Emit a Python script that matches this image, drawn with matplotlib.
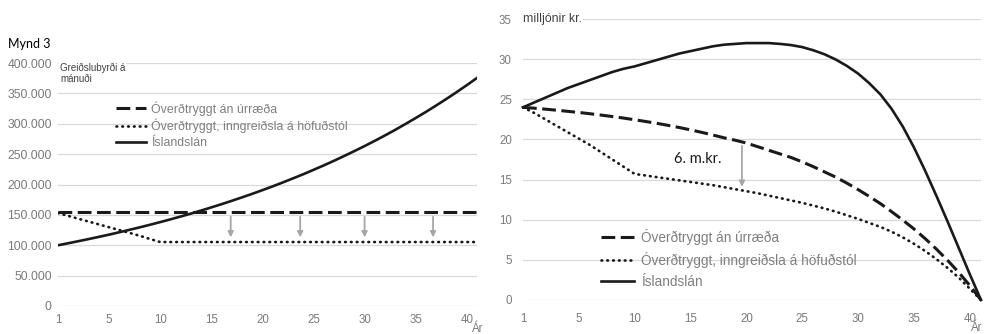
import numpy as np
import matplotlib
matplotlib.use("Agg")
import matplotlib.pyplot as plt

# ár 0..41 á flokkaás; merkingar 1, 5, 10, ... 40
tick_pos = [0, 5, 10, 15, 20, 25, 30, 35, 40]
tick_labels = ["1", "5", "10", "15", "20", "25", "30", "35", "40"]

labels = ["Óverðtryggt án úrræða",
          "Óverðtryggt, inngreiðsla á höfuðstól",
          "Íslandslán"]

# greiðslubyrði á mánuði (kr.)
pay_overdtr = [155000] * 42
pay_inngr = [153000, 148300, 143600, 139000, 134300, 129600, 125000, 120300,
             115600, 110300, 105300] + [105300] * 31
pay_isl = [100000, 103300, 106700, 110200, 113800, 117500, 121400, 125400,
           129500, 133700, 138100, 142600, 147300, 152100, 157100, 162300,
           167600, 173100, 178800, 184600, 190700, 196900, 203400, 210100,
           216900, 224100, 231400, 239000, 246900, 255000, 263300, 271900,
           280800, 290000, 299600, 309400, 319500, 330000, 340800, 352000,
           363500, 375400]

# eftirstöðvar (milljónir kr.)
bal_overdtr = [24.0, 23.89, 23.77, 23.64, 23.5, 23.36, 23.2, 23.03, 22.85,
               22.66, 22.45, 22.23, 22.0, 21.75, 21.48, 21.19, 20.88, 20.55,
               20.2, 19.9, 19.55, 19.1, 18.65, 18.2, 17.75, 17.2, 16.6,
               15.95, 15.3, 14.55, 13.75, 12.9, 12.0, 11.0, 9.95, 8.85,
               7.65, 6.35, 4.95, 3.45, 1.8, 0.0]
bal_inngr = [24.0, 23.3, 22.5, 21.7, 20.9, 20.1, 19.3, 18.4, 17.5, 16.6,
             15.7, 15.5, 15.3, 15.1, 14.9, 14.7, 14.5, 14.3, 14.05, 13.8,
             13.55, 13.3, 13.0, 12.7, 12.4, 12.1, 11.75, 11.4, 11.0, 10.55,
             10.1, 9.6, 9.1, 8.5, 7.8, 7.0, 6.1, 5.1, 4.0, 2.8, 1.4, 0.0]
bal_isl = [24.0, 24.6, 25.2, 25.8, 26.4, 26.9, 27.4, 27.9, 28.4, 28.8, 29.1,
           29.5, 29.9, 30.3, 30.7, 31.0, 31.3, 31.6, 31.8, 31.9, 32.0, 32.0,
           32.0, 31.9, 31.75, 31.5, 31.1, 30.6, 29.95, 29.15, 28.2, 27.0,
           25.6, 23.8, 21.6, 19.0, 16.1, 13.0, 9.8, 6.5, 3.2, 0.0]

# örvar sem sýna lækkun greiðslubyrði / eftirstöðva
arrow_x_left = [16.9, 23.7, 30.0, 36.7]
arrow_top_left, arrow_bot_left = 147000, 113000
arrow_x_right, arrow_top_right, arrow_bot_right = 19.6, 19.2, 14.1
note_right = "6. m.kr."

TICK = "#7a7a7a"
GRID = "#d9d9d9"
ARROW = "#a6a6a6"
FONT = "Liberation Sans"

W, H = 985, 334
fig = plt.figure(figsize=(W / 100, H / 100), dpi=100)
fig.patch.set_facecolor("white")

ax1 = fig.add_axes([58 / W, (H - 306) / H, 419 / W, 243 / H])
ax2 = fig.add_axes([523 / W, (H - 300) / H, 458 / W, 281 / H])

styles = [dict(linestyle=(0, (4.5, 1.8)), lw=2.2, color="#1a1a1a"),
          dict(linestyle=(0, (0.25, 1.9)), lw=1.95, color="#1a1a1a",
               dash_capstyle="round"),
          dict(linestyle="-", lw=1.9, color="#1a1a1a")]


def setup(ax, ylim, yticks, ylabels, ysize, ypad, xpad):
    for s in ax.spines.values():
        s.set_visible(False)
    ax.set_xlim(0, 41)
    ax.set_ylim(*ylim)
    ax.set_yticks(yticks)
    ax.set_yticklabels(ylabels, fontsize=ysize, color=TICK, family=FONT)
    ax.set_xticks(tick_pos)
    ax.set_xticklabels(tick_labels, fontsize=8.3, color=TICK, family=FONT)
    ax.tick_params(length=0)
    ax.tick_params(axis="y", pad=ypad)
    ax.tick_params(axis="x", pad=xpad)
    ax.grid(axis="y", color=GRID, lw=0.9)
    ax.set_axisbelow(True)


# vinstri: greiðslubyrði
yt = list(range(0, 400001, 50000))
setup(ax1, (0, 400000), yt,
      ["0" if v == 0 else f"{v:,}".replace(",", ".") for v in yt],
      8.8, 4.5, 6)
x = np.arange(len(pay_isl))
for ys, st, lab in zip([pay_overdtr, pay_inngr, pay_isl], styles, labels):
    ax1.plot(x, ys, label=lab, **st)
for ax_ in arrow_x_left:
    ax1.annotate("", xy=(ax_, arrow_bot_left), xytext=(ax_, arrow_top_left),
                 arrowprops=dict(arrowstyle="-|>", color=ARROW, lw=1.3,
                                 mutation_scale=8, shrinkA=0, shrinkB=0))
ax1.legend(loc="upper left", bbox_to_anchor=(116 / W, 1 - 101 / H),
           bbox_transform=fig.transFigure, frameon=False,
           prop=dict(family=FONT, size=8.9), labelcolor="#7f7f7f",
           handlelength=2.45, handletextpad=0.4, labelspacing=0.28,
           borderpad=0, borderaxespad=0)
ax1.text(0.2, 400000, "Greiðslubyrði á\nmánuði", fontsize=7, color="#404040",
         family=FONT, ha="left", va="top", linespacing=1.15,
         bbox=dict(facecolor="white", edgecolor="none", pad=0.5),
         transform=ax1.transData)
ax1.text(41.1, -0.068, "Ár", transform=ax1.get_xaxis_transform(),
         fontsize=8.3, color=TICK, family=FONT, ha="center", va="top")
fig.text(8 / W, 1 - 44 / H, "Mynd 3", fontsize=9, family="Lato",
         color="black", va="center", ha="left")

# hægri: eftirstöðvar
yt2 = list(range(0, 36, 5))
setup(ax2, (0, 35), yt2, [str(v) for v in yt2], 8.3, 8, 9)
x2 = np.arange(len(bal_isl))
for ys, st, lab in zip([bal_overdtr, bal_inngr, bal_isl], styles, labels):
    ax2.plot(x2, ys, label=lab, clip_on=False, **st)
ax2.annotate("", xy=(arrow_x_right, arrow_bot_right),
             xytext=(arrow_x_right, arrow_top_right),
             arrowprops=dict(arrowstyle="-|>", color=ARROW, lw=1.3,
                             mutation_scale=8, shrinkA=0, shrinkB=0))
ax2.text(15.6, 17.6, note_right, fontsize=10.5, family="Lato",
         color="#1a1a1a", ha="center", va="center")
ax2.legend(loc="upper left", bbox_to_anchor=(601 / W, 1 - 229 / H),
           bbox_transform=fig.transFigure, frameon=False,
           prop=dict(family=FONT, size=9.8), labelcolor="#7f7f7f",
           handlelength=2.45, handletextpad=0.5, labelspacing=0.51,
           borderpad=0, borderaxespad=0)
ax2.text(0, 35, "milljónir kr.", fontsize=8.8, color="#404040", family=FONT,
         ha="left", va="center",
         bbox=dict(facecolor="white", edgecolor="none", pad=1.0))
ax2.text(40.6, -0.08, "Ár", transform=ax2.get_xaxis_transform(),
         fontsize=8.3, color=TICK, family=FONT, ha="center", va="top")

fig.savefig("out.png", dpi=100)
